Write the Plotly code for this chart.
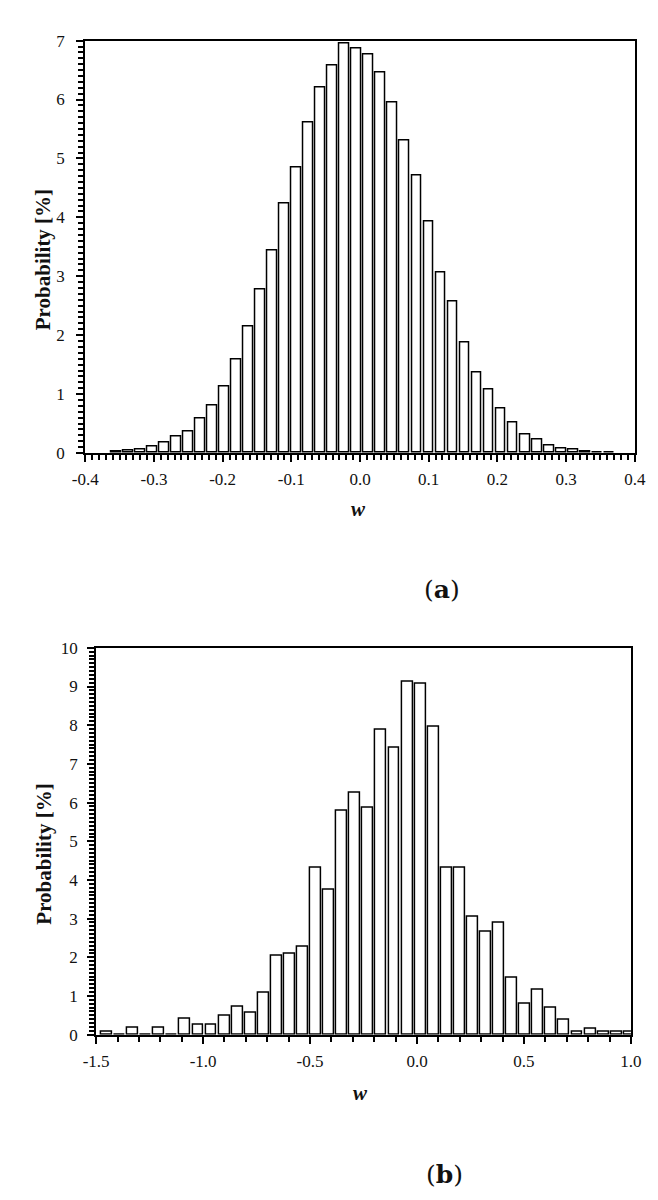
import plotly.graph_objects as go

# ---- Panel (a) data ----
a_centers = [-0.355, -0.3375, -0.32, -0.3025, -0.285, -0.2675, -0.25, -0.2325, -0.215, -0.1975,
             -0.18, -0.1625, -0.145, -0.1275, -0.11, -0.0925, -0.075, -0.0575, -0.04, -0.0225,
             -0.005, 0.0125, 0.03, 0.0475, 0.065, 0.0825, 0.1, 0.1175, 0.135, 0.1525,
             0.17, 0.1875, 0.205, 0.2225, 0.24, 0.2575, 0.275, 0.2925, 0.31, 0.3275,
             0.345, 0.3625]
a_values = [0.02, 0.04, 0.06, 0.10, 0.17, 0.27, 0.37, 0.59, 0.80, 1.13,
            1.59, 2.15, 2.78, 3.44, 4.23, 4.85, 5.61, 6.20, 6.57, 6.95,
            6.87, 6.76, 6.45, 5.94, 5.30, 4.71, 3.93, 3.07, 2.57, 1.87,
            1.36, 1.07, 0.75, 0.51, 0.31, 0.23, 0.13, 0.08, 0.06, 0.03,
            0.012, 0.01]
a_xticks = [-0.4, -0.3, -0.2, -0.1, 0.0, 0.1, 0.2, 0.3, 0.4]
a_yticks = [0, 1, 2, 3, 4, 5, 6, 7]

# ---- Panel (b) data ----
b_centers = [-1.451, -1.3899, -1.3288, -1.2677, -1.2066, -1.1455, -1.0844, -1.0233, -0.9622, -0.9011,
             -0.84, -0.7789, -0.7178, -0.6567, -0.5956, -0.5345, -0.4734, -0.4123, -0.3512, -0.2901,
             -0.229, -0.1679, -0.1068, -0.0457, 0.0154, 0.0765, 0.1376, 0.1987, 0.2598, 0.3209,
             0.382, 0.4431, 0.5042, 0.5653, 0.6264, 0.6875, 0.7486, 0.8097, 0.8708, 0.9319,
             0.993]
b_values = [0.08, 0, 0.17, 0, 0.17, 0, 0.40, 0.25, 0.25, 0.48,
            0.71, 0.56, 1.09, 2.03, 2.10, 2.27, 4.30, 3.75, 5.78, 6.25,
            5.86, 7.89, 7.42, 9.12, 9.06, 7.96, 4.30, 4.30, 3.05, 2.66,
            2.90, 1.48, 0.79, 1.17, 0.70, 0.39, 0.06, 0.15, 0.06, 0.06,
            0.06]
b_xticks = [-1.5, -1.0, -0.5, 0.0, 0.5, 1.0]
b_yticks = [0, 1, 2, 3, 4, 5, 6, 7, 8, 9, 10]

W, H = 658, 1200
SERIF = "Liberation Serif, Times New Roman, serif"
LABEL_FONT = "DejaVu Serif, serif"

fig = go.Figure()
fig.add_trace(go.Bar(x=a_centers, y=a_values, width=0.0143, xaxis="x", yaxis="y",
                     marker=dict(color="white", line=dict(color="black", width=1.5)),
                     showlegend=False))
fig.add_trace(go.Bar(x=b_centers, y=b_values, width=0.051, xaxis="x2", yaxis="y2",
                     marker=dict(color="white", line=dict(color="black", width=1.5)),
                     showlegend=False))


def px_x(p):
    return p / W


def px_y(p):
    return 1 - p / H


def hyphen_alias(ticks):
    # Plotly renders negatives with U+2212; the reference uses a plain hyphen
    return {f"{v:.1f}".replace("-", "\u2212"): f"{v:.1f}" for v in ticks if v < 0}


common_axis = dict(showline=True, mirror=True, linecolor="black", linewidth=2,
                   ticks="outside", tickcolor="black", tickwidth=1.8, ticklen=7,
                   showgrid=False, zeroline=False, tickmode="linear", tick0=0,
                   tickfont=dict(family=SERIF, size=17, color="#111"))


def minor(step):
    return dict(dtick=step, tick0=0, ticks="outside", ticklen=5, tickwidth=1.8,
                tickcolor="black", showgrid=False)


fig.update_layout(
    width=W, height=H,
    margin=dict(l=0, r=0, t=0, b=0),
    paper_bgcolor="white", plot_bgcolor="white",
    bargap=0,
    xaxis=dict(domain=[px_x(66.7), px_x(637)], range=[a_xticks[0], a_xticks[-1]], anchor="y",
               dtick=a_xticks[1] - a_xticks[0], tickformat=".1f",
               labelalias=hyphen_alias(a_xticks),
               ticklabelstandoff=3, minor=minor(0.01), **common_axis),
    yaxis=dict(domain=[px_y(443), px_y(24)], range=[a_yticks[0], a_yticks[-1]], anchor="x",
               dtick=1, ticklabelstandoff=8, minor=minor(0.1), **common_axis),
    xaxis2=dict(domain=[px_x(78), px_x(633)], range=[b_xticks[0], b_xticks[-1]], anchor="y2",
                dtick=b_xticks[1] - b_xticks[0], tickformat=".1f",
                labelalias=hyphen_alias(b_xticks),
                ticklabelstandoff=3, minor=minor(0.1), **common_axis),
    yaxis2=dict(domain=[px_y(1034), px_y(641)], range=[b_yticks[0], b_yticks[-1]], anchor="x2",
                dtick=1, ticklabelstandoff=6, minor=minor(0.1), **common_axis),
)

annots = [
    dict(text="<b>Probability [%]</b>", x=px_x(23), y=px_y(247), textangle=-90,
         font=dict(family=SERIF, size=21, color="#111")),
    dict(text="<b><i>w</i></b>", x=px_x(350), y=px_y(500),
         font=dict(family=SERIF, size=21, color="#111")),
    dict(text="(<b>a</b>)", x=px_x(437), y=px_y(582),
         font=dict(family=LABEL_FONT, size=25, color="#111")),
    dict(text="<b>Probability [%]</b>", x=px_x(23), y=px_y(851), textangle=-90,
         font=dict(family=SERIF, size=21, color="#111")),
    dict(text="<b><i>w</i></b>", x=px_x(352), y=px_y(1093),
         font=dict(family=SERIF, size=21, color="#111")),
    dict(text="(<b>b</b>)", x=px_x(440), y=px_y(1176),
         font=dict(family=LABEL_FONT, size=25, color="#111")),
]
for a in annots:
    fig.add_annotation(xref="paper", yref="paper", showarrow=False,
                       xanchor="center", yanchor="middle", **a)

fig.write_html("out.html")
